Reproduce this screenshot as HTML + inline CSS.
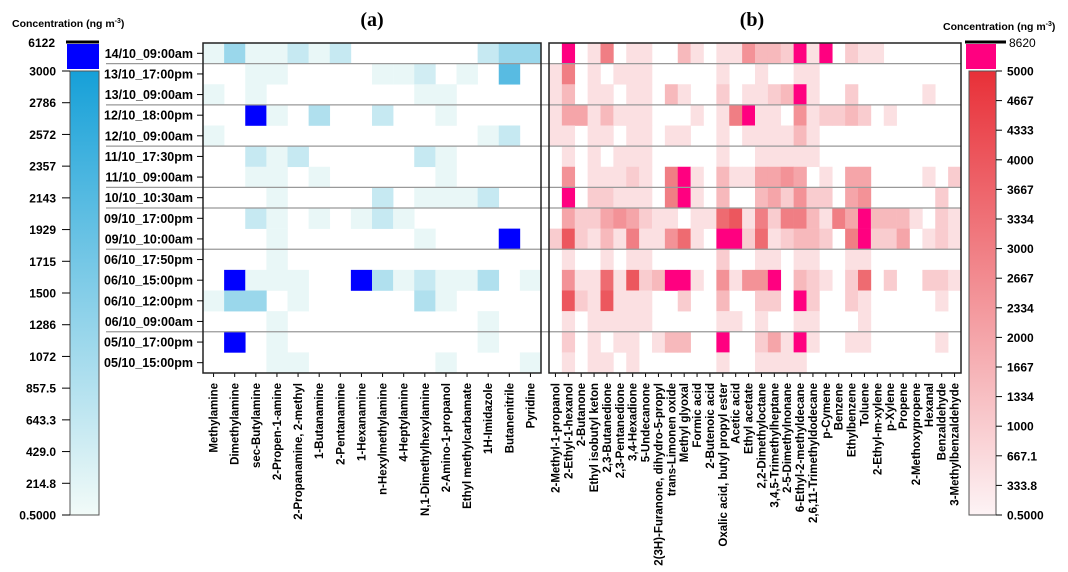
<!DOCTYPE html>
<html><head><meta charset="utf-8">
<style>
html,body{margin:0;padding:0;background:#fff;}
svg{display:block;font-family:"Liberation Sans",Arial,sans-serif;}
</style></head>
<body>
<svg id="chart" width="1068" height="572" viewBox="0 0 1068 572" xmlns="http://www.w3.org/2000/svg">
<defs>
<linearGradient id="gBlue" x1="0" y1="1" x2="0" y2="0">
<stop offset="0" stop-color="#f2fbf8"/><stop offset="1" stop-color="#16a0d8"/></linearGradient>
<linearGradient id="gRed" x1="0" y1="1" x2="0" y2="0">
<stop offset="0" stop-color="#fdf3f5"/><stop offset="1" stop-color="#e83038"/></linearGradient>
</defs>
<text x="372" y="26" font-family="Liberation Serif,serif" font-weight="bold" font-size="20" text-anchor="middle">(a)</text>
<text x="752" y="26" font-family="Liberation Serif,serif" font-weight="bold" font-size="20" text-anchor="middle">(b)</text>
<text x="12" y="27" font-weight="bold" font-size="10.5">Concentration (ng m<tspan dy="-4" font-size="7">-3</tspan><tspan dy="4">)</tspan></text>
<text x="943" y="30" font-weight="bold" font-size="10.5">Concentration (ng m<tspan dy="-4" font-size="7">-3</tspan><tspan dy="4">)</tspan></text>
<g id="layer"></g>
</svg>
<script>
const rowLabels=["14/10_09:00am","13/10_17:00pm","13/10_09:00am","12/10_18:00pm","12/10_09:00am","11/10_17:30pm","11/10_09:00am","10/10_10:30am","09/10_17:00pm","09/10_10:00am","06/10_17:50pm","06/10_15:00pm","06/10_12:00pm","06/10_09:00am","05/10_17:00pm","05/10_15:00pm"];
const colsA=["Methylamine","Dimethylamine","sec-Butylamine","2-Propen-1-amine","2-Propanamine, 2-methyl","1-Butanamine","2-Pentanamine","1-Hexanamine","n-Hexylmethylamine","4-Heptylamine","N,1-Dimethylhexylamine","2-Amino-1-propanol","Ethyl methylcarbamate","1H-Imidazole","Butanenitrile","Pyridine"];
const colsB=["2-Methyl-1-propanol","2-Ethyl-1-hexanol","2-Butanone","Ethyl isobutyl keton","2,3-Butanedione","2,3-Pentanedione","3,4-Hexadione","5-Undecanone","2(3H)-Furanone, dihydro-5-propyl","trans-Limonen oxide","Methyl glyoxal","Formic acid","2-Butenoic acid","Oxalic acid, butyl propyl ester","Acetic acid","Ethyl acetate","2,2-Dimethyloctane","3,4,5-Trimethylheptane","2-5-Dimethylnonane","6-Ethyl-2-methyldecane","2,6,11-Trimethyldodecane","p-Cymene","Benzene","Ethylbenzene","Toluene","2-Ethyl-m-xylene","p-Xylene","Propene","2-Methoxypropene","Hexanal","Benzaldehyde","3-Methylbenzaldehyde"];
const valuesA=[
[120,1200,120,120,600,120,600,0,0,0,0,0,0,600,1200,1200],
[0,0,120,120,0,0,0,0,120,120,450,0,120,0,2100,0],
[120,0,120,0,0,0,0,0,0,0,120,120,0,0,0,0],
[0,0,4500,120,0,900,0,0,600,0,0,120,0,0,0,0],
[120,0,0,0,0,0,0,0,0,0,0,0,0,120,600,0],
[0,0,600,120,600,0,0,0,0,0,600,120,0,0,0,0],
[0,0,120,120,0,120,0,0,0,0,0,120,0,0,0,0],
[0,0,0,120,0,0,0,0,600,0,120,120,120,600,0,0],
[0,0,600,120,0,120,0,120,600,120,0,0,0,0,0,0],
[0,0,0,120,0,0,0,0,0,0,120,0,0,0,4500,0],
[0,0,0,120,0,0,0,0,0,0,0,0,0,0,0,0],
[0,4500,120,120,120,0,0,4500,900,120,600,120,120,900,0,120],
[120,1200,1200,0,120,0,0,0,0,0,900,120,0,0,0,0],
[0,0,0,120,0,0,0,0,0,0,0,0,0,120,0,0],
[0,4500,0,120,0,0,0,0,0,0,0,0,0,120,0,0],
[0,0,0,120,120,0,0,0,0,0,0,120,0,0,0,120]];
const valuesB=[
[0,7000,0,500,3000,0,500,500,0,0,1500,500,0,500,500,2500,1500,1500,1000,7000,500,7000,0,1000,500,500,0,0,0,0,0,0],
[500,3000,0,500,0,500,500,500,0,0,0,0,0,500,0,0,500,0,0,500,500,0,0,0,0,0,0,0,0,0,0,0],
[500,1500,0,500,500,0,500,500,0,1500,500,0,0,1000,0,500,500,1000,1500,7000,500,0,0,1000,0,0,0,0,0,500,0,0],
[500,2000,2000,500,1500,500,500,500,0,0,0,500,0,500,3000,7000,500,500,0,2500,500,1000,1000,1500,1000,0,500,0,0,0,0,0],
[500,500,0,500,500,0,500,500,0,500,500,0,0,500,0,500,500,500,500,1500,500,0,0,0,0,0,0,0,0,0,0,0],
[0,500,0,500,0,500,500,500,0,0,0,0,0,500,0,0,500,500,500,500,500,0,0,0,0,0,0,0,0,0,0,0],
[0,2500,0,500,500,500,1000,500,0,3000,7000,500,0,1500,500,500,2000,2000,2500,2000,0,500,0,2000,2000,0,0,0,0,500,0,1000],
[0,7000,0,1000,1000,500,500,500,0,3000,7000,500,0,1500,0,0,1500,2000,1000,2500,1000,1000,0,2000,2500,0,0,0,0,0,1000,0],
[0,2000,1000,1000,2000,2500,2000,1000,500,500,0,500,500,3500,4000,500,3000,1000,3000,3000,1500,500,3000,2000,7000,1500,1500,1500,500,0,1000,500],
[1000,4000,1000,500,1500,500,3000,500,500,2500,3500,500,0,7000,7000,1000,3500,500,1000,1500,1500,1000,0,3000,7000,1000,1000,2000,0,500,1000,500],
[0,500,0,0,500,0,500,500,0,0,0,0,0,1000,0,0,500,500,0,500,500,0,0,500,500,0,0,0,0,0,0,0],
[0,2500,500,500,3500,500,4000,1000,1500,7000,7000,500,0,2500,500,2500,2500,7000,0,1500,1000,500,0,1000,3500,0,1000,0,0,1000,1000,500],
[0,4000,1000,500,4000,500,500,500,0,0,1000,0,0,1500,0,0,1000,1000,0,7000,1000,0,0,1000,500,0,0,0,0,0,500,0],
[0,500,0,500,500,500,500,500,0,0,0,0,0,500,500,0,500,0,0,500,500,0,0,0,500,0,0,0,0,0,0,0],
[0,1000,0,500,0,500,500,0,500,1500,1500,0,0,7000,0,0,1000,2000,500,7000,500,0,0,500,500,0,0,0,0,0,500,0],
[0,500,0,500,500,0,500,0,0,0,0,0,0,500,0,0,500,500,500,500,0,0,0,0,0,0,0,0,0,0,0,0]];
const ticksA=["3000","2786","2572","2357","2143","1929","1715","1500","1286","1072","857.5","643.3","429.0","214.8","0.5000"];
const ticksB=["5000","4667","4333","4000","3667","3334","3000","2667","2334","2000","1667","1334","1000","667.1","333.8","0.5000"];
const maxA=3000, maxB=5000, topA="6122", topB="8620";
const separatorsAfter=[0,2,4,6,7,9,13];

const NS="http://www.w3.org/2000/svg";
const layer=document.getElementById('layer');
function mk(tag,attrs,parent){const e=document.createElementNS(NS,tag);for(const k in attrs)e.setAttribute(k,attrs[k]);(parent||layer).appendChild(e);return e;}
function lerp(a,b,t){return a.map((v,i)=>Math.round(v+(b[i]-v)*t));}
function colA(v){if(v<=0)return"#ffffff";if(v>maxA)return"#0000ff";const c=lerp([242,251,248],[22,160,216],v/maxA);return`rgb(${c})`;}
function colB(v){if(v<=0)return"#ffffff";if(v>maxB)return"#ff0080";const c=lerp([253,243,245],[232,48,56],v/maxB);return`rgb(${c})`;}

const gTop=43,gBot=373,nR=rowLabels.length,rowH=(gBot-gTop)/nR;
const yRow=i=>gTop+i*rowH;
function panel(x0,x1,cols,vals,colf,nm){
  const cw=(x1-x0)/cols.length;
  const xCol=j=>x0+j*cw;
  vals.forEach((row,i)=>row.forEach((v,j)=>{
    if(v<=0)return;
    const r=mk('rect',{x:xCol(j),y:yRow(i),width:cw+0.3,height:rowH+0.3,fill:colf(v)});
    
    
  }));
  cols.forEach((c,j)=>{
    const cx=xCol(j)+cw/2;
    mk('line',{x1:cx,x2:cx,y1:gBot,y2:gBot+4,stroke:'#000','stroke-width':1});
    const t=mk('text',{x:0,y:0,transform:`translate(${cx+4},${gBot+10}) rotate(-90)`,'text-anchor':'end','font-size':11.5,'font-weight':'bold'});
    t.textContent=c;
    
    
  });
}
panel(203,541,colsA,valuesA,colA,'panel-a');
panel(549,961,colsB,valuesB,colB,'panel-b');
separatorsAfter.forEach(i=>{
  const y=yRow(i+1);
  const l=mk('line',{x1:106,x2:961,y1:y,y2:y,stroke:'#999','stroke-width':1.2});
  
  
});
const fa=mk('rect',{x:203,y:gTop,width:338,height:gBot-gTop,fill:'none',stroke:'#222','stroke-width':1.5});


const fb=mk('rect',{x:549,y:gTop,width:412,height:gBot-gTop,fill:'none',stroke:'#222','stroke-width':1.5});


rowLabels.forEach((r,i)=>{
  const cy=yRow(i)+rowH/2;
  const t=mk('text',{x:193,y:cy+4.5,'text-anchor':'end','font-size':12.5,'font-weight':'bold'});
  t.textContent=r;
  
  
  mk('line',{x1:197,x2:203,y1:cy,y2:cy,stroke:'#000','stroke-width':1});
});
function cbar(x,w,topBlockColor,grad,ticks,topLabel,labelLeft,nm){
  const b=mk('rect',{x:x-3,y:44,width:w+3,height:25,fill:topBlockColor});
  
  
  mk('line',{x1:x-4,x2:x+w+(labelLeft?0:10),y1:42,y2:42,stroke:'#000','stroke-width':3});
  const r=mk('rect',{x:x,y:71,width:w,height:444,fill:`url(#${grad})`,stroke:'#555','stroke-width':1});
  
  
  const step=444/(ticks.length-1);
  ticks.forEach((t,k)=>{
    const y=71+k*step;
    const tx=labelLeft?x-14:x+w+11;
    if(labelLeft)mk('line',{x1:x-8,x2:x,y1:y,y2:y,stroke:'#000'});else mk('line',{x1:x+w,x2:x+w+6,y1:y,y2:y,stroke:'#000'});
    const e=mk('text',{x:tx,y:y+4.5,'text-anchor':labelLeft?'end':'start','font-size':12,'font-weight':'bold'});
    e.textContent=t;
    
    
  });
  const e=mk('text',{x:labelLeft?x-15:x+w+13,y:47,'text-anchor':labelLeft?'end':'start','font-size':12,'font-weight':labelLeft?'bold':'normal'});
  e.textContent=topLabel;
  
  
}
cbar(70,29,'#0000ff','gBlue',ticksA,topA,true,'left-colorbar');
cbar(969,27,'#ff0080','gRed',ticksB,topB,false,'right-colorbar');
</script>
</body></html>
